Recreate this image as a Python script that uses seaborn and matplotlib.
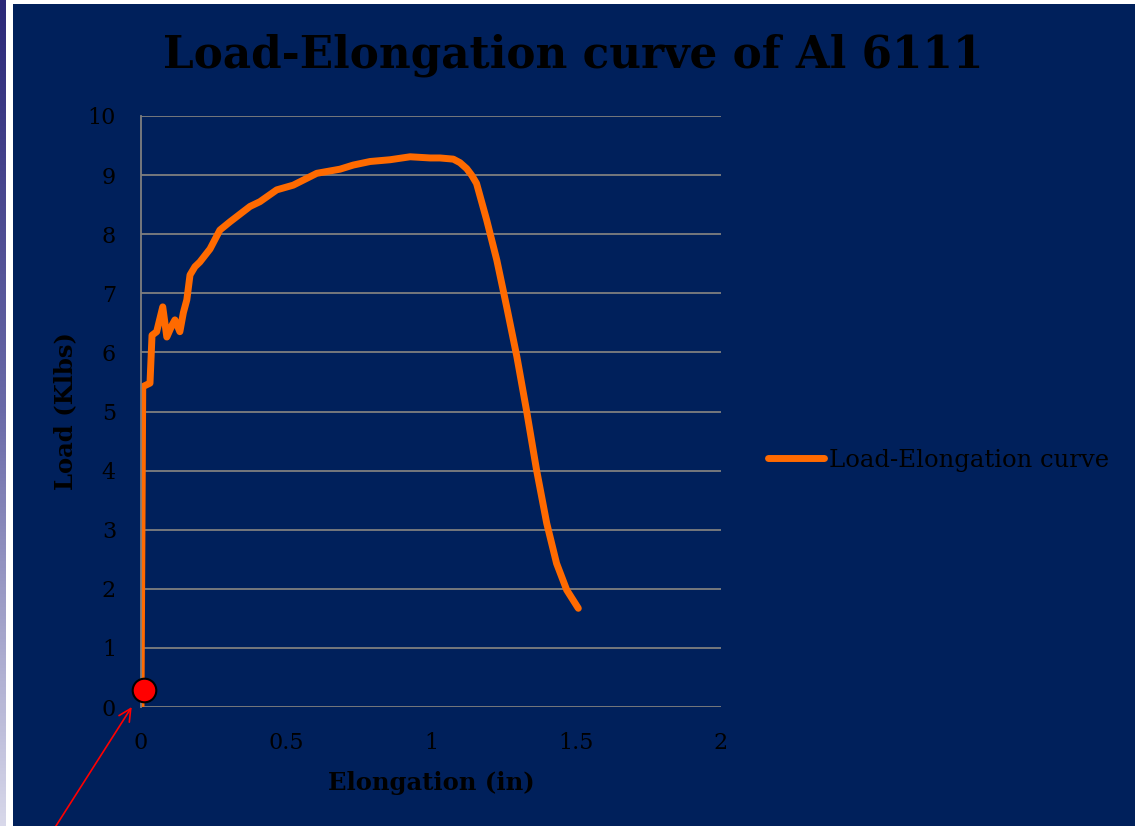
import numpy as np
import pandas as pd
import matplotlib
matplotlib.use("Agg")
import matplotlib.pyplot as plt
import seaborn as sns
from matplotlib.patches import Rectangle
from matplotlib.colors import LinearSegmentedColormap

# ---- data ----
elongation = [0.0, 0.006, 0.031, 0.038, 0.054, 0.075, 0.089, 0.107, 0.117, 0.134, 0.146,
              0.158, 0.169, 0.186, 0.203, 0.238, 0.272, 0.307, 0.376, 0.410, 0.468,
              0.525, 0.606, 0.640, 0.686, 0.732, 0.790, 0.859, 0.928, 0.997, 1.031,
              1.077, 1.100, 1.123, 1.140, 1.157, 1.192, 1.227, 1.261, 1.296, 1.330,
              1.364, 1.399, 1.433, 1.468, 1.508]
load = [0.0, 5.42, 5.48, 6.29, 6.35, 6.77, 6.26, 6.46, 6.55, 6.35, 6.67,
        6.89, 7.31, 7.45, 7.53, 7.75, 8.07, 8.21, 8.47, 8.55, 8.75,
        8.83, 9.03, 9.06, 9.10, 9.17, 9.23, 9.26, 9.31, 9.29, 9.29,
        9.27, 9.21, 9.11, 9.00, 8.86, 8.24, 7.56, 6.77, 5.93, 5.00,
        4.01, 3.11, 2.43, 1.98, 1.67]
marker_x = [0.01]
marker_y = [0.29]
series_name = "Load-Elongation curve"
title = "Load-Elongation curve of Al 6111"
xlabel = "Elongation (in)"
ylabel = "Load (Klbs)"
xticks = [0, 0.5, 1, 1.5, 2]
xticklabels = ["0", "0.5", "1", "1.5", "2"]
yticks = list(range(0, 11))

df = pd.DataFrame({"Elongation": elongation, "Load": load, "series": series_name})

sns.set_style("white")
plt.rcParams["font.family"] = ["DejaVu Serif"]

W, H = 1137, 826
fig = plt.figure(figsize=(W / 100, H / 100), dpi=100, facecolor="white")

navy = "#00205B"
orange = "#FF6A00"

# slide background
fig.patches.append(Rectangle((13 / W, 0), (1135 - 13) / W, (H - 4) / H,
                             transform=fig.transFigure, facecolor=navy,
                             edgecolor="none", zorder=-10))
# left gradient stripe
sax = fig.add_axes([0, 0, 5.5 / W, 1])
grad = np.linspace(0, 1, 256).reshape(-1, 1)
cm = LinearSegmentedColormap.from_list("strip", ["#2b2878", "#6a6aa8", "#d8d8ea"])
sax.imshow(grad, aspect="auto", cmap=cm, extent=[0, 1, 1, 0])
sax.set_axis_off()

ax = fig.add_axes([141 / W, 1 - 707 / H, 580 / W, 591 / H])
ax.set_facecolor(navy)

sns.lineplot(data=df, x="Elongation", y="Load", hue="series", palette=[orange],
             sort=False, estimator=None, linewidth=5, ax=ax, legend=True,
             solid_joinstyle="round", solid_capstyle="round")
ax.plot(marker_x, marker_y, "o", markersize=17, markerfacecolor="#FF0000",
        markeredgecolor="black", markeredgewidth=1.5, zorder=5, clip_on=False)

ax.set_xlim(0, 2)
ax.set_ylim(0, 10)
ax.set_xticks(xticks)
ax.set_xticklabels(xticklabels)
ax.set_yticks(yticks)
ax.grid(axis="y", color="#7f7f7f", linewidth=1.3)
ax.grid(axis="x", visible=False)
ax.set_axisbelow(True)
for s in ["top", "right", "bottom"]:
    ax.spines[s].set_visible(False)
ax.spines["left"].set_color("#7f7f7f")
ax.spines["left"].set_linewidth(1.3)
ax.tick_params(axis="both", length=0, labelsize=16, colors="black")
ax.tick_params(axis="y", pad=18)
ax.tick_params(axis="x", pad=18)

ax.set_xlabel(xlabel, fontsize=17.5, fontweight="bold", color="black", va="center")
ax.set_ylabel(ylabel, fontsize=17.5, fontweight="bold", color="black", va="center")
ax.xaxis.set_label_coords(0.5, (707 - 783) / 591)
ax.yaxis.set_label_coords((65 - 141) / 580, 0.5)

fig.text(573 / W, 1 - 55 / H, title, fontsize=31.5, fontweight="bold",
         color="black", ha="center", va="center")

leg = ax.legend(loc="center left", bbox_to_anchor=(768 / W, 1 - 460 / H),
                bbox_transform=fig.transFigure, frameon=False, fontsize=17.5,
                handlelength=2.3, handletextpad=0.2, borderpad=0, borderaxespad=0)
for t in leg.get_texts():
    t.set_color("black")
for l in leg.get_lines():
    l.set_linewidth(5)
    l.set_solid_capstyle("round")

# red arrow pointing at the marker
ax.annotate("", xy=(-0.032, 0.0), xycoords="data",
            xytext=(40 / W, -25 / H), textcoords="figure fraction",
            arrowprops=dict(arrowstyle="->", color="#FF0000", lw=1.2,
                            mutation_scale=22, shrinkA=0, shrinkB=0),
            annotation_clip=False)

fig.savefig("out.png", dpi=100, facecolor=fig.get_facecolor())
